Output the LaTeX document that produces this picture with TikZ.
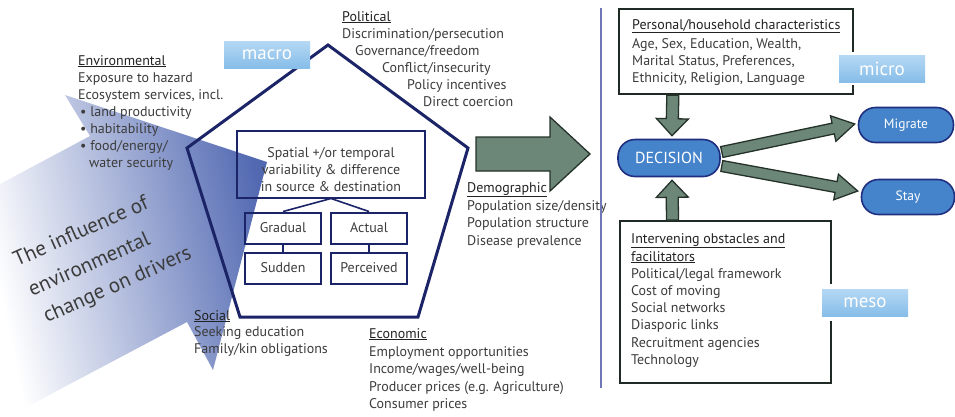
\documentclass[tikz,border=0pt]{standalone}
\usepackage{fontspec}
\setmainfont{PT Sans}
\usetikzlibrary{calc}
\definecolor{navy}{HTML}{1C2468}
\definecolor{txt}{HTML}{3C3C3C}
\definecolor{hdr}{HTML}{222222}
\definecolor{garrow}{HTML}{6C8677}
\definecolor{garrowd}{HTML}{25322A}
\definecolor{pillb}{HTML}{4584CA}
\definecolor{pilld}{HTML}{1F2E7E}
\definecolor{bigblue}{HTML}{5269B2}
\definecolor{lblA}{HTML}{B4D8F4}
\definecolor{lblB}{HTML}{86BCE8}
\definecolor{sepc}{HTML}{6F78B4}
\newcommand\blockarrow[5]{%
  \coordinate (ba-h) at ($(#2)!#5!(#1)$);
  \filldraw[blockarr] ($(#1)!#3!90:(#2)$) -- ($(ba-h)!#3!-90:(#1)$) -- ($(ba-h)!#4!-90:(#1)$)
    -- (#2) -- ($(ba-h)!#4!90:(#1)$) -- ($(ba-h)!#3!90:(#1)$) -- ($(#1)!#3!-90:(#2)$) -- cycle;}
\tikzset{
  blockarr/.style={fill=garrow, draw=garrowd, line width=1.3pt, line join=miter},
  body/.style={anchor=base west, inner sep=0pt, text=txt, font=\fontsize{14}{16}\selectfont},
  head/.style={body, text=hdr},
  box/.style={draw=navy, line width=2pt, minimum width=76pt, minimum height=31pt, inner sep=0pt, font=\fontsize{14}{16}\selectfont, text=txt},
  pill/.style={draw=pilld, fill=pillb, line width=1.6pt, rounded corners=17pt, text=white, inner sep=0pt, font=\fontsize{13.5}{16}\selectfont},
  lvl/.style={top color=lblA, bottom color=lblB, text=white, inner sep=0pt, minimum width=86pt, minimum height=27pt, font=\fontsize{19}{20}\selectfont},
  fbox/.style={draw=garrowd!85!black, line width=2.2pt, inner sep=0pt},
  infl/.style={anchor=base west, inner sep=0pt, rotate=24, text=txt, font=\fontsize{21}{22}\selectfont},
}
\begin{document}
\begin{tikzpicture}[x=1pt,y=-1pt]
\useasboundingbox (0,0) rectangle (955,416);
% big shaded arrow
\begin{scope}
\clip (0,0) rectangle (955,416);
\shade[left color=white, right color=bigblue, shading angle=102]
  (0,184) -- (90,136) -- (65,95) -- (267,162) -- (213,370) -- (187,322) -- (0,421) -- cycle;
\end{scope}
\node[infl] (inf1) at (17,267) {The influence of};
\node[infl] (inf2) at (32,297) {environmental};
\node[infl] (inf3) at (47,323) {change on drivers};
% pentagon
\draw[navy, line width=3pt, line join=miter] (328,45) -- (468,148) -- (418,317) -- (240,317) -- (187,148) -- cycle;
% inner boxes
\node[box, minimum width=188pt, minimum height=67pt] (spat) at (331,164) {};
\node[body, anchor=base] (sp1) at (331,157) {Spatial +/or temporal};
\node[body, anchor=base] (sp2) at (331,174) {variability \& difference};
\node[body, anchor=base] (sp3) at (331,191) {in source \& destination};
\node[box] (grad) at (283,228) {Gradual};
\node[box] (act) at (369,228) {Actual};
\node[box] (sud) at (283,268) {Sudden};
\node[box] (perc) at (369,268) {Perceived};
\draw[navy, line width=1.6pt] (grad.north) -- (spat.south) -- (act.north);
\draw[navy, line width=1.6pt] (grad.south) -- (sud.north);
\draw[navy, line width=1.6pt] (act.south) -- (perc.north);
% macro label
\node[lvl] (macro) at (267,55) {macro};
% Environmental
\node[head] (env0) at (78,65) {\underline{Environmental}};
\node[body] (env1) at (78,82) {Exposure to hazard};
\node[body] (env2) at (78,99) {Ecosystem services, incl.};
\node[body] (env3) at (80,116) {• land productivity};
\node[body] (env4) at (80,133) {• habitability};
\node[body] (env5) at (80,150) {• food/energy/};
\node[body] (env6) at (89,167) {water security};
% Political
\node[head] (pol0) at (342,21) {\underline{Political}};
\node[body] (pol1) at (342,38) {Discrimination/persecution};
\node[body] (pol2) at (355,55) {Governance/freedom};
\node[body] (pol3) at (382,72) {Conflict/insecurity};
\node[body] (pol4) at (407,89) {Policy incentives};
\node[body] (pol5) at (423,106) {Direct coercion};
% Demographic
\node[head] (dem0) at (467,192) {\underline{Demographic}};
\node[body] (dem1) at (467,210) {Population size/density};
\node[body] (dem2) at (467,227) {Population structure};
\node[body] (dem3) at (467,245) {Disease prevalence};
% Social
\node[head] (soc0) at (194,320) {\underline{Social}};
\node[body] (soc1) at (194,336) {Seeking education};
\node[body] (soc2) at (194,353) {Family/kin obligations};
% Economic
\node[head] (eco0) at (369,338) {\underline{Economic}};
\node[body] (eco1) at (369,356) {Employment opportunities};
\node[body] (eco2) at (369,373) {Income/wages/well-being};
\node[body] (eco3) at (369,391) {Producer prices (e.g. Agriculture)};
\node[body] (eco4) at (369,408) {Consumer prices};
% big arrow to decision side
\coordinate (ga1) at (476,154);
\coordinate (ga2) at (590,154);
\blockarrow{ga1}{ga2}{17pt}{37pt}{40pt}
% separator
\draw[sepc, line width=1.3pt] (601,8) coordinate (s1) -- (601,388) coordinate (s2);
% personal box
\node[fbox, minimum width=234pt, minimum height=85pt, anchor=north west] (pers) at (618,8) {};
\node[head] (pe0) at (632,29) {\underline{Personal/household characteristics}};
\node[body] (pe1) at (632,48) {Age, Sex, Education, Wealth,};
\node[body] (pe2) at (632,65) {Marital Status, Preferences,};
\node[body] (pe3) at (632,82) {Ethnicity, Religion, Language};
% intervening box
\node[fbox, minimum width=211pt, minimum height=162pt, anchor=north west] (inter) at (619,220) {};
\node[head] (in0) at (631,243) {\underline{Intervening obstacles and}};
\node[head] (in1) at (631,261) {\underline{facilitators}};
\node[body] (in2) at (631,278) {Political/legal framework};
\node[body] (in3) at (631,295) {Cost of moving};
\node[body] (in4) at (631,312) {Social networks};
\node[body] (in5) at (631,329) {Diasporic links};
\node[body] (in6) at (631,347) {Recruitment agencies};
\node[body] (in7) at (631,364) {Technology};
% micro / meso labels (over box borders)
\fill[white] (835,52) rectangle (929,85);
\node[lvl] (micro) at (882,69) {micro};
\fill[white] (818,284) rectangle (911,321);
\node[lvl] (meso) at (865,303) {meso};
% pills
\node[pill, minimum width=102pt, minimum height=37pt, font=\fontsize{16}{18}\selectfont] (dec) at (669,158) {DECISION};
\node[pill, minimum width=95pt, minimum height=35pt] (mig) at (906,125) {Migrate};
\node[pill, minimum width=93pt, minimum height=35pt] (stay) at (908,197) {Stay};
% arrows around decision
\coordinate (d1) at ($(pers.south west)!0.232!(pers.south east)$);
\coordinate (d2) at ($(dec.north)+(3,-3)$);
\blockarrow{d1}{d2}{6pt}{16pt}{17pt}
\coordinate (u1) at ($(inter.north west)!0.251!(inter.north east)$);
\coordinate (u2) at ($(dec.south)+(3,3)$);
\blockarrow{u1}{u2}{6pt}{16pt}{17pt}
\coordinate (m1) at ($(dec.east)+(1,-6)$);
\coordinate (m2) at ($(mig.west)+(-3,-1)$);
\blockarrow{m1}{m2}{5.5pt}{13pt}{22pt}
\coordinate (t1) at ($(dec.east)+(1,8)$);
\coordinate (t2) at ($(stay.west)+(-3,-6)$);
\blockarrow{t1}{t2}{5.5pt}{13pt}{22pt}
\end{tikzpicture}
\end{document}
